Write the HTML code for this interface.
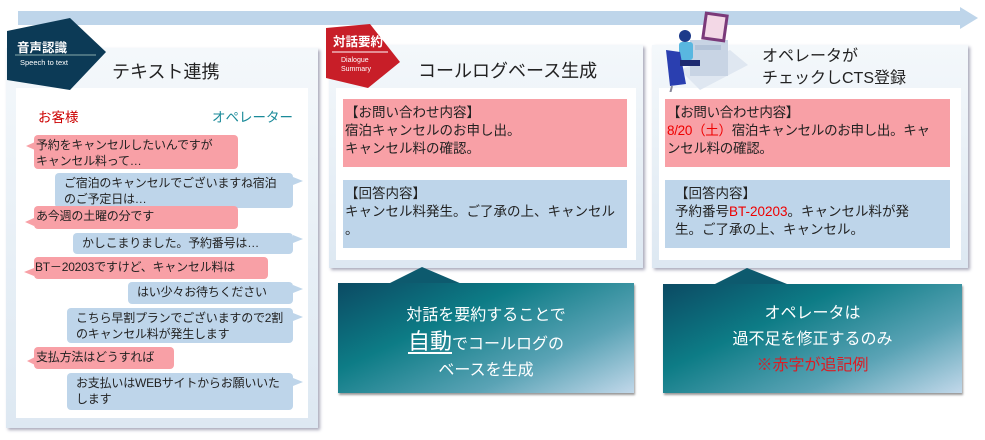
<!DOCTYPE html>
<html><head><meta charset="utf-8"><style>
*{margin:0;padding:0;box-sizing:border-box}
body{width:985px;height:440px;background:#fff;position:relative;overflow:hidden;font-family:"Liberation Sans","Noto Sans CJK JP",sans-serif;color:#222}
.a{position:absolute}
.panel{position:absolute;background:linear-gradient(#f4f8fb,#dde8f2);box-shadow:2px 2px 3px #aab}
.inner{position:absolute;background:#fff}
.b{position:absolute;font-size:12px;line-height:16px;padding:2px 0 0 0;border-radius:4px;white-space:nowrap;letter-spacing:-0.2px}
.p{background:#f8a0a6}
.q{background:#bed5ea}
.tl{position:absolute;width:0;height:0;border-top:4px solid transparent;border-bottom:4px solid transparent}
.pk{position:absolute;background:#f8a0a6;font-size:13.5px;line-height:18px;padding:5px 2px;white-space:nowrap}
.bl{position:absolute;background:#bed5ea;font-size:13.5px;line-height:18px;padding:5px 2px;white-space:nowrap}
.teal{position:absolute;background:linear-gradient(155deg,#0b4a63 0%,#0d7c86 35%,#5aa3b5 70%,#c2d8ea 100%);box-shadow:1px 2px 2px #999;color:#fff;text-align:center}
</style></head><body>
<svg class="a" style="left:0;top:0" width="985" height="40">
<rect x="18" y="11" width="945" height="14" fill="#bed5ea"/>
<polygon points="960,7 978,18 960,29" fill="#bed5ea"/>
</svg>
<div class="panel" style="left:6px;top:48px;width:312px;height:380px"></div>
<div class="inner" style="left:16px;top:88px;width:292px;height:330px"></div>
<svg class="a" style="left:0;top:0" width="120" height="95"><polygon points="7,31 70,18 106,52 70,90 7,80" fill="#0c3a56"/><line x1="15" y1="55" x2="96" y2="55" stroke="#8aa" stroke-width="1"/></svg>
<div class="a" style="left:17px;top:37px;color:#fff;font-size:12.5px;font-weight:bold">音声認識</div>
<div class="a" style="left:20px;top:58px;color:#fff;font-size:7.5px">Speech to text</div>
<div class="a" style="left:112px;top:58px;font-size:18px">テキスト連携</div>
<div class="a" style="left:38px;top:106px;color:#c00;font-size:13.5px">お客様</div>
<div class="a" style="left:212px;top:106px;color:#1a8a99;font-size:13.5px">オペレーター</div>
<div class="b p" style="left:34px;top:135px;width:204px;height:34px;padding-left:2px">予約をキャンセルしたいんですが<br>キャンセル料って…</div>
<div class="tl" style="left:26px;top:142px;border-right:9px solid #f8a0a6"></div>
<div class="b q" style="left:55px;top:173px;width:238px;height:35px;padding-left:9px">ご宿泊のキャンセルでございますね宿泊<br>のご予定日は…</div>
<div class="tl" style="left:293px;top:177px;border-left:10px solid #bed5ea"></div>
<div class="b p" style="left:34px;top:206px;width:204px;height:23px;padding-left:2px">あ今週の土曜の分です</div>
<div class="tl" style="left:25px;top:218px;border-right:9px solid #f8a0a6"></div>
<div class="b q" style="left:73px;top:233px;width:220px;height:21px;padding-left:9px">かしこまりました。予約番号は…</div>
<div class="tl" style="left:293px;top:235px;border-left:10px solid #bed5ea"></div>
<div class="b p" style="left:34px;top:257px;width:234px;height:22px;padding-left:1px">BT－20203ですけど、キャンセル料は</div>
<div class="tl" style="left:24px;top:268px;border-right:10px solid #f8a0a6"></div>
<div class="b q" style="left:128px;top:282px;width:165px;height:22px;padding-left:9px">はい少々お待ちください</div>
<div class="tl" style="left:293px;top:285px;border-left:10px solid #bed5ea"></div>
<div class="b q" style="left:67px;top:308px;width:226px;height:35px;padding-left:9px">こちら早割プランでございますので2割<br>のキャンセル料が発生します</div>
<div class="tl" style="left:293px;top:313px;border-left:10px solid #bed5ea"></div>
<div class="b p" style="left:34px;top:347px;width:140px;height:22px;padding-left:2px">支払方法はどうすれば</div>
<div class="tl" style="left:27px;top:357px;border-right:8px solid #f8a0a6"></div>
<div class="b q" style="left:67px;top:373px;width:226px;height:37px;padding-left:9px">お支払いはWEBサイトからお願いいた<br>します</div>
<div class="tl" style="left:293px;top:378px;border-left:10px solid #bed5ea"></div>
<!-- panel 2 -->
<div class="panel" style="left:329px;top:45px;width:314px;height:223px"></div>
<div class="inner" style="left:336px;top:88px;width:300px;height:172px"></div>
<svg class="a" style="left:320px;top:20px" width="90" height="75"><polygon points="6,8 50,4 80,42 48,68 6,58" fill="#c81e28"/><line x1="12" y1="32" x2="68" y2="32" stroke="#fff" stroke-width="1"/></svg>
<div class="a" style="left:333px;top:31px;color:#fff;font-size:12.5px;font-weight:bold">対話要約</div>
<div class="a" style="left:341px;top:56px;color:#fff;font-size:7px;line-height:9px">Dialogue<br>Summary</div>
<div class="a" style="left:418px;top:57px;font-size:18px">コールログベース生成</div>
<div class="pk" style="left:343px;top:99px;width:284px;height:68px">【お問い合わせ内容】<br>宿泊キャンセルのお申し出。<br>キャンセル料の確認。</div>
<div class="bl" style="left:343px;top:180px;width:284px;height:68px">【回答内容】<br>キャンセル料発生。ご了承の上、キャンセル<br>。</div>
<!-- panel 3 -->
<div class="panel" style="left:652px;top:45px;width:316px;height:223px"></div>
<div class="inner" style="left:659px;top:88px;width:302px;height:172px"></div>
<svg class="a" style="left:660px;top:10px" width="90" height="82">
<polygon points="20,60 70,40 88,55 40,80" fill="#dfe7f1"/>
<polygon points="30,30 68,30 68,66 30,66" fill="#c8d4e4"/>
<rect x="35" y="35" width="26" height="5" fill="#b3c3d8"/>
<rect x="43" y="3" width="24" height="28" fill="#7b3a7a" transform="rotate(8 55 17)"/><rect x="46" y="6" width="18" height="22" fill="#f3d8e6" transform="rotate(8 55 17)"/>
<circle cx="25" cy="26" r="6" fill="#1d3a8a"/>
<rect x="19" y="32" width="14" height="18" rx="3" fill="#59b7e0"/>
<polygon points="6,40 20,42 26,74 10,76" fill="#2a3fb0"/>
<rect x="20" y="50" width="20" height="6" fill="#1d2a70"/>
<line x1="12" y1="76" x2="10" y2="84" stroke="#889" stroke-width="2"/>
</svg>
<div class="a" style="left:762px;top:46px;font-size:16px;line-height:22px">オペレータが<br>チェックしCTS登録</div>
<div class="pk" style="left:665px;top:99px;width:285px;height:68px;letter-spacing:-0.3px">【お問い合わせ内容】<br><span style="color:#e00">8/20（土）</span>宿泊キャンセルのお申し出。キャ<br>ンセル料の確認。</div>
<div class="bl" style="left:665px;top:180px;width:285px;height:68px;padding-left:10px">【回答内容】<br>予約番号<span style="color:#e00">BT-20203</span>。キャンセル料が発<br>生。ご了承の上、キャンセル。</div>
<svg class="a" style="left:0;top:260px" width="985" height="30">
<polygon points="388,24 422,7 462,24" fill="#0d5a6e"/>
<polygon points="715,24 747,8 787,24" fill="#0d5a6e"/>
</svg>
<div class="teal" style="left:338px;top:283px;width:296px;height:110px">
<div style="font-size:16px;line-height:26px;padding-top:20px">対話を要約することで<br><span style="font-size:22px;text-decoration:underline;text-underline-offset:3px">自動</span>でコールログの<br>ベースを生成</div></div>
<div class="teal" style="left:663px;top:284px;width:299px;height:109px">
<div style="font-size:16px;line-height:26px;padding-top:17px">オペレータは<br>過不足を修正するのみ<br><span style="color:#d81f26">※赤字が追記例</span></div></div>
</body></html>
